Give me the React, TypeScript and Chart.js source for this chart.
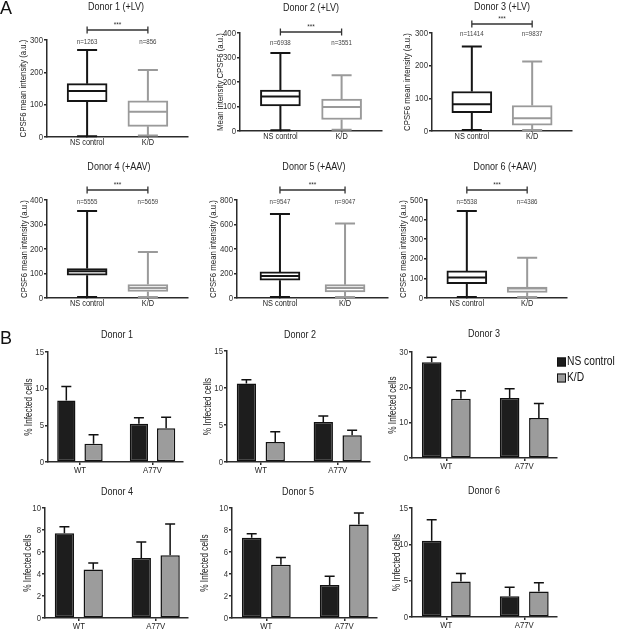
import React, { useEffect, useRef } from "react";
import { Chart, registerables } from "chart.js";

Chart.register(...registerables);

const FONT = "'Liberation Sans', Arial, sans-serif";
const NARROW = 0.82; // the figure uses a condensed sans face

// ---------------- Panel A: CPSF6 intensity (box plots) ----------------
const boxCategories = ["NS control", "K/D"];
const boxTitles = ["Donor 1 (+LV)", "Donor 2 (+LV)", "Donor 3 (+LV)", "Donor 4 (+AAV)", "Donor 5 (+AAV)", "Donor 6 (+AAV)"];
const boxYTitles = [
  "CPSF6 mean intensity (a.u.)",
  "Mean intensity CPSF6 (a.u.)",
  "CPSF6 mean intensity (a.u.)",
  "CPSF6 mean intensity (a.u.)",
  "CPSF6 mean intensity (a.u.)",
  "CPSF6 mean intensity (a.u.)",
];
const boxNLabels = [
  ["n=1263", "n=856"],
  ["n=6938", "n=3551"],
  ["n=11414", "n=9837"],
  ["n=5555", "n=5659"],
  ["n=9547", "n=9047"],
  ["n=5538", "n=4386"],
];
const boxMin = [[2, 5], [3, 5], [3, 3], [4, 4], [8, 8], [5, 5]];
const boxQ1 = [[109, 33], [102, 47], [56, 18], [93, 27], [145, 49], [73, 29]];
const boxMedian = [[142, 78], [141, 98], [82, 39], [109, 41], [180, 82], [104, 48]];
const boxQ3 = [[165, 112], [167, 130], [121, 78], [120, 55], [213, 109], [138, 56]];
const boxMax = [[269, 207], [318, 228], [259, 213], [355, 188], [686, 609], [444, 205]];
const boxYMax = [300, 400, 300, 400, 800, 500];
const boxYStep = [100, 100, 100, 100, 200, 100];
const significance = "***";

// ---------------- Panel B: % infected cells (bar charts) ----------------
const barCategories = ["WT", "A77V"];
const barSeries = ["NS control", "K/D"];
const barTitles = ["Donor 1", "Donor 2", "Donor 3", "Donor 4", "Donor 5", "Donor 6"];
const barYTitle = "% Infected cells";
const nsMean = [[8.4, 5.2], [10.6, 5.4], [27.1, 17.0], [7.7, 5.45], [7.3, 3.0], [10.5, 2.85]];
const nsErr = [[1.9, 0.85], [0.5, 0.8], [1.4, 2.6], [0.6, 1.45], [0.35, 0.8], [2.9, 1.25]];
const kdMean = [[2.5, 4.6], [2.7, 3.6], [16.8, 11.3], [4.4, 5.7], [4.85, 8.5], [4.9, 3.5]];
const kdErr = [[1.2, 1.5], [1.4, 0.7], [2.2, 4.1], [0.6, 2.85], [0.65, 1.05], [1.1, 1.2]];
const barYMax = [15, 15, 30, 10, 10, 15];
const barYStep = [5, 5, 10, 2, 2, 5];

// ---------------- layout (page pixels) ----------------
const boxLayout = [
  { axisX: 47, top: 40, bottom: 137, right: 188, titleX: 116, titleY: 7, yTitleX: 23, bracketY: 30, nY: 42 },
  { axisX: 240, top: 33, bottom: 131, right: 382, titleX: 311, titleY: 8, yTitleX: 220, bracketY: 32, nY: 43 },
  { axisX: 432, top: 33, bottom: 131, right: 572, titleX: 502, titleY: 7, yTitleX: 407, bracketY: 24, nY: 34 },
  { axisX: 47, top: 200, bottom: 298, right: 188, titleX: 119, titleY: 167, yTitleX: 24, bracketY: 190, nY: 202 },
  { axisX: 237, top: 200, bottom: 298, right: 388, titleX: 314, titleY: 167, yTitleX: 213, bracketY: 190, nY: 202 },
  { axisX: 427, top: 200, bottom: 298, right: 567, titleX: 505, titleY: 167, yTitleX: 403, bracketY: 190, nY: 202 },
];
const barLayout = [
  { axisX: 48, top: 352, bottom: 462, right: 183, titleX: 117, titleY: 335, yTitleX: 29 },
  { axisX: 227, top: 351, bottom: 462, right: 370, titleX: 300, titleY: 335, yTitleX: 208 },
  { axisX: 412, top: 352, bottom: 458, right: 557, titleX: 484, titleY: 334, yTitleX: 393 },
  { axisX: 45, top: 508, bottom: 618, right: 188, titleX: 117, titleY: 492, yTitleX: 28 },
  { axisX: 232, top: 508, bottom: 618, right: 377, titleX: 298, titleY: 492, yTitleX: 205 },
  { axisX: 412, top: 508, bottom: 617, right: 557, titleX: 484, titleY: 491, yTitleX: 397 },
];

const AXIS = "#2b2b2b";
const BOX_COLORS = ["#151515", "#9a9a9a"];
const BAR_FILL = ["#1d1d1d", "#9c9c9c"];

type Lay = { axisX: number; top: number; bottom: number; right: number; titleX: number; titleY: number; yTitleX: number; bracketY?: number; nY?: number };
type Rect = { L: number; T: number; W: number; H: number };

// draws every text of the chart horizontally condensed (like the figure's narrow face)
const narrowText = {
  id: "narrowText",
  beforeInit(chart: any) {
    const ctx = chart.ctx;
    const orig = ctx.fillText.bind(ctx);
    chart.$origFillText = orig;
    ctx.fillText = (text: string, x: number, y: number) => {
      ctx.save();
      ctx.translate(x, y);
      ctx.scale(NARROW, 1);
      orig(text, 0, 0);
      ctx.restore();
    };
  },
};

function rectFor(l: Lay, rightEdge?: number): Rect {
  const L = Math.max(0, l.axisX - 47);
  const T = Math.max(0, l.top - 42);
  const R = rightEdge ?? Math.min(617, l.right + 12);
  const B = Math.min(633, l.bottom + 20);
  return { L, T, W: R - L, H: B - T };
}

function scalesFor(
  l: Lay, rect: Rect, cats: string[], xMin: number, xMax: number,
  yMax: number, step: number, yTitle: string, yTitleSize: number, xTickLen: number, xFontSize: number
) {
  const lh = yTitleSize * 1.2;
  return {
    x: {
      type: "linear",
      min: xMin,
      max: xMax,
      offset: false,
      afterBuildTicks: (s: any) => { s.ticks = cats.map((_, i) => ({ value: i })); },
      afterFit: (s: any) => { s.height = rect.T + rect.H - l.bottom; },
      ticks: {
        callback: (v: any) => cats[v] ?? "",
        font: { family: FONT, size: xFontSize },
        color: "#222",
        padding: 0,
        maxRotation: 0,
        autoSkip: false,
      },
      grid: { offset: false, drawOnChartArea: false, drawTicks: true, tickLength: xTickLen, color: AXIS, lineWidth: 1.5 },
      border: { display: true, color: AXIS, width: 1.5 },
    },
    y: {
      min: 0,
      max: yMax,
      afterFit: (s: any) => { s.width = l.axisX - rect.L; },
      ticks: { stepSize: step, font: { family: FONT, size: 9.5 }, color: "#333", padding: 1 },
      grid: { drawOnChartArea: false, drawTicks: true, tickLength: 3, color: AXIS, lineWidth: 1.5 },
      border: { display: true, color: AXIS, width: 1.5 },
      title: {
        display: true,
        text: yTitle,
        font: { family: FONT, size: yTitleSize },
        color: "#222",
        padding: { top: l.yTitleX - rect.L - lh / 2, bottom: 0 },
      },
    },
  };
}

function panelLetter(chart: any, letter: string, x: number, y: number) {
  const ctx = chart.ctx;
  ctx.save();
  ctx.fillStyle = "#111";
  ctx.textAlign = "left";
  ctx.textBaseline = "alphabetic";
  ctx.font = `18px ${FONT}`;
  chart.$origFillText(letter, x, y);
  ctx.restore();
}

function boxConfig(k: number, rect: Rect): any {
  const l = boxLayout[k];
  const extras = {
    id: "boxExtras",
    afterDatasetsDraw(chart: any) {
      const { ctx } = chart;
      const ys = chart.scales.y;
      const xs = chart.scales.x;
      const py = (v: number) => ys.getPixelForValue(v);
      const meta = chart.getDatasetMeta(0);
      ctx.save();
      meta.data.forEach((el: any, i: number) => {
        const x = el.x;
        const w = el.width;
        ctx.strokeStyle = BOX_COLORS[i];
        ctx.lineWidth = 2;
        ctx.beginPath();
        ctx.moveTo(x, py(boxQ3[k][i])); ctx.lineTo(x, py(boxMax[k][i]));
        ctx.moveTo(x, py(boxQ1[k][i])); ctx.lineTo(x, py(boxMin[k][i]));
        ctx.moveTo(x - w / 4, py(boxMax[k][i])); ctx.lineTo(x + w / 4, py(boxMax[k][i]));
        ctx.moveTo(x - w / 4, py(boxMin[k][i])); ctx.lineTo(x + w / 4, py(boxMin[k][i]));
        ctx.moveTo(x - w / 2 + 1, py(boxMedian[k][i])); ctx.lineTo(x + w / 2 - 1, py(boxMedian[k][i]));
        ctx.stroke();
      });
      // title
      ctx.fillStyle = "#222";
      ctx.textAlign = "center";
      ctx.textBaseline = "middle";
      ctx.font = `11px ${FONT}`;
      ctx.fillText(boxTitles[k], l.titleX - rect.L, l.titleY - rect.T);
      // n labels
      ctx.fillStyle = "#444";
      ctx.font = `7.5px ${FONT}`;
      boxNLabels[k].forEach((t, i) => ctx.fillText(t, xs.getPixelForValue(i), (l.nY as number) - rect.T));
      // significance bracket
      const by = (l.bracketY as number) - rect.T;
      const x0 = xs.getPixelForValue(0);
      const x1 = xs.getPixelForValue(1);
      ctx.strokeStyle = "#333";
      ctx.lineWidth = 1.3;
      ctx.beginPath();
      ctx.moveTo(x0, by); ctx.lineTo(x1, by);
      ctx.moveTo(x0, by - 3.5); ctx.lineTo(x0, by + 3.5);
      ctx.moveTo(x1, by - 3.5); ctx.lineTo(x1, by + 3.5);
      ctx.stroke();
      ctx.fillStyle = "#333";
      ctx.font = `8px ${FONT}`;
      ctx.fillText(significance, (x0 + x1) / 2, by - 5);
      ctx.restore();
      if (k === 0) panelLetter(chart, "A", 0 - rect.L, 13.5 - rect.T);
    },
  };
  return {
    type: "bar",
    data: {
      labels: boxCategories.map((_, i) => i),
      datasets: [
        {
          data: boxQ1[k].map((v, i) => [v, boxQ3[k][i]]),
          backgroundColor: "#ffffff",
          borderColor: BOX_COLORS,
          borderWidth: 2,
          borderSkipped: false,
          barThickness: 40,
        },
      ],
    },
    options: {
      responsive: false,
      animation: false,
      events: [],
      layout: { padding: { top: l.top - rect.T, right: rect.L + rect.W - l.right, left: 0, bottom: 0 } },
      plugins: { legend: { display: false }, tooltip: { enabled: false }, title: { display: false } },
      scales: scalesFor(l, rect, boxCategories, -0.66, 1.66, boxYMax[k], boxYStep[k], boxYTitles[k], 9.5, 0, 9),
    },
    plugins: [narrowText, extras],
  };
}

function barConfig(k: number, rect: Rect): any {
  const l = barLayout[k];
  const means = [nsMean[k], kdMean[k]];
  const errs = [nsErr[k], kdErr[k]];
  const extras = {
    id: "barExtras",
    afterDatasetsDraw(chart: any) {
      const { ctx } = chart;
      const ys = chart.scales.y;
      ctx.save();
      ctx.strokeStyle = "#111";
      ctx.lineWidth = 1.5;
      [0, 1].forEach((d) => {
        const meta = chart.getDatasetMeta(d);
        meta.data.forEach((el: any, j: number) => {
          const top = ys.getPixelForValue(means[d][j]);
          const e = ys.getPixelForValue(means[d][j] + errs[d][j]);
          ctx.beginPath();
          ctx.moveTo(el.x, top); ctx.lineTo(el.x, e);
          ctx.moveTo(el.x - 5, e); ctx.lineTo(el.x + 5, e);
          ctx.stroke();
        });
      });
      ctx.fillStyle = "#222";
      ctx.textAlign = "center";
      ctx.textBaseline = "middle";
      ctx.font = `11px ${FONT}`;
      ctx.fillText(barTitles[k], l.titleX - rect.L, l.titleY - rect.T);
      if (k === 2) {
        // legend
        ctx.font = `12.5px ${FONT}`;
        ctx.textAlign = "left";
        const rows = [362, 378];
        barSeries.forEach((s, i) => {
          const cy = rows[i] - rect.T;
          ctx.fillStyle = BAR_FILL[i];
          ctx.fillRect(557 - rect.L, cy - 4.5, 9, 9);
          ctx.strokeStyle = "#111";
          ctx.lineWidth = 1;
          ctx.strokeRect(557.5 - rect.L, cy - 4, 8, 8);
          ctx.fillStyle = "#111";
          ctx.fillText(s, 567 - rect.L, cy);
        });
      }
      ctx.restore();
      if (k === 0) panelLetter(chart, "B", 0 - rect.L, 343.5 - rect.T);
    },
  };
  return {
    type: "bar",
    data: {
      labels: barCategories.map((_, i) => i),
      datasets: barSeries.map((s, i) => ({
        label: s,
        data: means[i],
        backgroundColor: BAR_FILL[i],
        borderColor: "#111",
        borderWidth: 1.5,
        borderSkipped: false,
        categoryPercentage: 0.75,
        barPercentage: 0.67,
      })),
    },
    options: {
      responsive: false,
      animation: false,
      events: [],
      layout: { padding: { top: l.top - rect.T, right: rect.L + rect.W - l.right, left: 0, bottom: 0 } },
      plugins: { legend: { display: false }, tooltip: { enabled: false }, title: { display: false } },
      scales: scalesFor(l, rect, barCategories, -0.44, 1.42, barYMax[k], barYStep[k], barYTitle, 10, 3, 9.5),
    },
    plugins: [narrowText, extras],
  };
}

function ChartCanvas({ rect, build }: { rect: Rect; build: () => any }) {
  const ref = useRef<HTMLCanvasElement>(null);
  useEffect(() => {
    const chart = new Chart(ref.current as HTMLCanvasElement, build());
    return () => chart.destroy();
  }, []);
  return (
    <canvas
      ref={ref}
      width={rect.W}
      height={rect.H}
      style={{ position: "absolute", left: rect.L, top: rect.T, width: rect.W, height: rect.H }}
    />
  );
}

export default function App() {
  const boxRects = boxLayout.map((l) => rectFor(l));
  const barRects = barLayout.map((l, k) => rectFor(l, k === 2 ? 617 : undefined));
  return (
    <div style={{ position: "fixed", left: 0, top: 0, width: 617, height: 633, overflow: "hidden", background: "#fff" }}>
      {boxRects.map((r, k) => (
        <ChartCanvas key={"a" + k} rect={r} build={() => boxConfig(k, r)} />
      ))}
      {barRects.map((r, k) => (
        <ChartCanvas key={"b" + k} rect={r} build={() => barConfig(k, r)} />
      ))}
    </div>
  );
}
